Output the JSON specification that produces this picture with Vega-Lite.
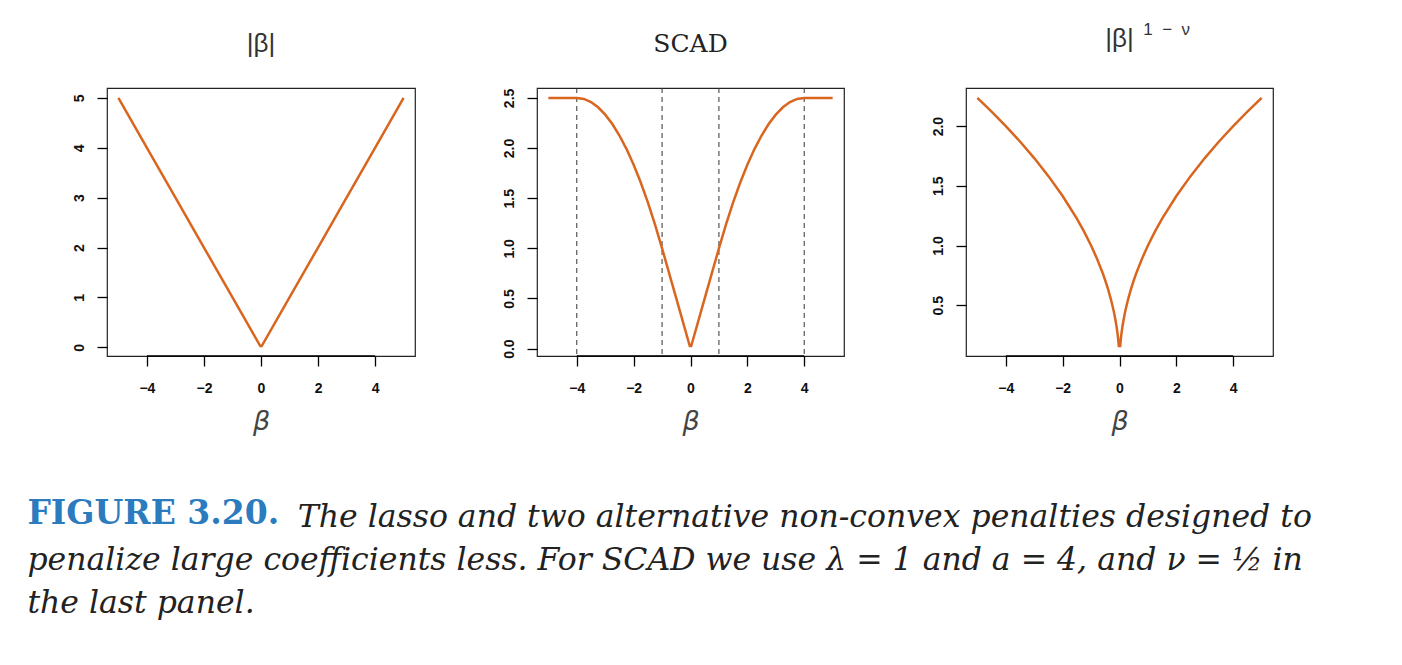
{
  "$schema": "https://vega.github.io/schema/vega-lite/v6.json",
  "background": "white",
  "padding": {"left": 27, "top": 20, "right": 0, "bottom": 0},
  "bounds": "flush",
  "spacing": 122,
  "config": {
    "view": {"stroke": "#222", "strokeWidth": 1.2},
    "axis": {
      "grid": false, "domain": false, "tickColor": "#000", "tickSize": 10, "tickWidth": 1.3,
      "labelFont": "Liberation Sans", "labelFontSize": 14, "labelFontWeight": "bold", "labelColor": "#111",
      "titleFont": "DejaVu Sans", "titleFontStyle": "italic", "titleFontWeight": "normal", "titleFontSize": 27, "titleColor": "#444"
    },
    "axisX": {"labelPadding": 15, "titlePadding": 13},
    "axisY": {"labelAngle": 270, "labelAlign": "center", "labelBaseline": "bottom", "labelPadding": 11, "title": null},
    "title": {"font": "Liberation Sans", "fontSize": 26, "fontWeight": "normal", "color": "#333", "anchor": "middle", "baseline": "alphabetic", "offset": 31}
  },
  "title": {
    "text": "FIGURE 3.20.",
    "subtitle": [
      "\u200b\u00a0\u00a0\u00a0\u00a0\u00a0\u00a0\u00a0\u00a0\u00a0\u00a0\u00a0\u00a0\u00a0\u00a0\u00a0\u00a0\u00a0\u00a0\u00a0\u00a0\u00a0\u00a0\u00a0\u00a0\u00a0\u00a0\u00a0The lasso and two alternative non-convex penalties designed to",
      "penalize large coefficients less. For SCAD we use λ = 1 and a = 4, and ν = ½ in",
      "the last panel."
    ],
    "orient": "bottom", "anchor": "start", "frame": "bounds",
    "font": "DejaVu Serif", "fontSize": 33, "fontWeight": "bold", "color": "#2b7bbf",
    "subtitleFont": "DejaVu Serif", "subtitleFontSize": 31.5, "subtitleFontStyle": "italic", "subtitleColor": "#222",
    "subtitleLineHeight": 43, "subtitlePadding": -29, "offset": 63, "dx": -44
  },
  "hconcat": [
    {
      "width": 308, "height": 268,
      "title": {"text": "|β|"},
      "layer": [
        {
          "data": {"values": [
            {"b": -5, "p": 5}, {"b": -4, "p": 4}, {"b": -3, "p": 3}, {"b": -2, "p": 2}, {"b": -1, "p": 1},
            {"b": -0.025, "p": 0.025}, {"b": 0.025, "p": 0.025},
            {"b": 1, "p": 1}, {"b": 2, "p": 2}, {"b": 3, "p": 3}, {"b": 4, "p": 4}, {"b": 5, "p": 5}
          ]},
          "mark": {"type": "line", "color": "#d9661f", "strokeWidth": 2.5},
          "encoding": {
            "x": {"field": "b", "type": "quantitative", "scale": {"domain": [-5.4, 5.4], "nice": false, "zero": false}, "axis": {"title": "β", "values": [-4, -2, 0, 2, 4], "format": "d"}},
            "y": {"field": "p", "type": "quantitative", "scale": {"domain": [-0.174, 5.199], "nice": false, "zero": false}, "axis": {"values": [0, 1, 2, 3, 4, 5], "format": "d"}}
          }
        },
        {
          "data": {"values": [{"from": -4, "to": 4}]},
          "mark": {"type": "rule", "color": "#000", "strokeWidth": 1.5},
          "encoding": {
            "x": {"field": "from", "type": "quantitative"},
            "x2": {"field": "to"},
            "y": {"value": "height"}
          }
        }
      ]
    },
    {
      "width": 307, "height": 268,
      "title": {"text": "SCAD", "font": "DejaVu Serif", "fontSize": 25, "color": "#222"},
      "layer": [
        {
          "data": {"values": [{"v": -4}, {"v": -1}, {"v": 1}, {"v": 4}]},
          "mark": {"type": "rule", "color": "#333", "strokeWidth": 1, "strokeDash": [5, 4]},
          "encoding": {"x": {"field": "v", "type": "quantitative", "scale": {"domain": [-5.4, 5.4], "nice": false, "zero": false}, "axis": {"title": "β", "values": [-4, -2, 0, 2, 4], "format": "d"}}}
        },
        {
          "data": {"values": [
            {"b": -5, "p": 2.5}, {"b": -4.5, "p": 2.5}, {"b": -4, "p": 2.5}, {"b": -3.75, "p": 2.4896}, {"b": -3.5, "p": 2.4583},
            {"b": -3.25, "p": 2.4063}, {"b": -3, "p": 2.3333}, {"b": -2.75, "p": 2.2396}, {"b": -2.5, "p": 2.125}, {"b": -2.25, "p": 1.9896},
            {"b": -2, "p": 1.8333}, {"b": -1.75, "p": 1.6563}, {"b": -1.5, "p": 1.4583}, {"b": -1.25, "p": 1.2396}, {"b": -1, "p": 1},
            {"b": -0.5, "p": 0.5}, {"b": -0.025, "p": 0.025}, {"b": 0.025, "p": 0.025}, {"b": 0.5, "p": 0.5},
            {"b": 1, "p": 1}, {"b": 1.25, "p": 1.2396}, {"b": 1.5, "p": 1.4583}, {"b": 1.75, "p": 1.6563}, {"b": 2, "p": 1.8333},
            {"b": 2.25, "p": 1.9896}, {"b": 2.5, "p": 2.125}, {"b": 2.75, "p": 2.2396}, {"b": 3, "p": 2.3333}, {"b": 3.25, "p": 2.4063},
            {"b": 3.5, "p": 2.4583}, {"b": 3.75, "p": 2.4896}, {"b": 4, "p": 2.5}, {"b": 4.5, "p": 2.5}, {"b": 5, "p": 2.5}
          ]},
          "mark": {"type": "line", "color": "#d9661f", "strokeWidth": 2.5},
          "encoding": {
            "x": {"field": "b", "type": "quantitative"},
            "y": {"field": "p", "type": "quantitative", "scale": {"domain": [-0.074, 2.599], "nice": false, "zero": false}, "axis": {"values": [0, 0.5, 1, 1.5, 2, 2.5], "format": ".1f"}}
          }
        },
        {
          "data": {"values": [{"from": -4, "to": 4}]},
          "mark": {"type": "rule", "color": "#000", "strokeWidth": 1.5},
          "encoding": {
            "x": {"field": "from", "type": "quantitative"},
            "x2": {"field": "to"},
            "y": {"value": "height"}
          }
        }
      ]
    },
    {
      "width": 307, "height": 268,
      "title": {"text": "|β|", "subtitle": "\u200b\u00a0\u00a0\u00a0\u00a0\u00a0\u00a0\u00a0\u00a0\u00a0\u00a0\u00a0\u00a0\u00a0\u00a0\u00a0\u00a0\u00a0\u00a0\u00a0\u00a01\u00a0\u00a0−\u00a0\u00a0ν", "subtitleFont": "Liberation Sans", "subtitleFontSize": 17, "subtitleColor": "#333", "subtitlePadding": -30, "offset": 31},
      "layer": [
        {
          "data": {"values": [
            {"b": -5, "p": 2.2361}, {"b": -4.5, "p": 2.1213}, {"b": -4, "p": 2.0}, {"b": -3.5, "p": 1.8708}, {"b": -3, "p": 1.7321},
            {"b": -2.5, "p": 1.5811}, {"b": -2, "p": 1.4142}, {"b": -1.5, "p": 1.2247}, {"b": -1.25, "p": 1.118}, {"b": -1, "p": 1.0},
            {"b": -0.8, "p": 0.8944}, {"b": -0.6, "p": 0.7746}, {"b": -0.5, "p": 0.7071}, {"b": -0.4, "p": 0.6325}, {"b": -0.3, "p": 0.5477},
            {"b": -0.2, "p": 0.4472}, {"b": -0.15, "p": 0.3873}, {"b": -0.1, "p": 0.3162}, {"b": -0.075, "p": 0.2739}, {"b": -0.05, "p": 0.2236},
            {"b": -0.025, "p": 0.1581}, {"b": 0.025, "p": 0.1581},
            {"b": 0.05, "p": 0.2236}, {"b": 0.075, "p": 0.2739}, {"b": 0.1, "p": 0.3162}, {"b": 0.15, "p": 0.3873}, {"b": 0.2, "p": 0.4472},
            {"b": 0.3, "p": 0.5477}, {"b": 0.4, "p": 0.6325}, {"b": 0.5, "p": 0.7071}, {"b": 0.6, "p": 0.7746}, {"b": 0.8, "p": 0.8944},
            {"b": 1, "p": 1.0}, {"b": 1.25, "p": 1.118}, {"b": 1.5, "p": 1.2247}, {"b": 2, "p": 1.4142}, {"b": 2.5, "p": 1.5811},
            {"b": 3, "p": 1.7321}, {"b": 3.5, "p": 1.8708}, {"b": 4, "p": 2.0}, {"b": 4.5, "p": 2.1213}, {"b": 5, "p": 2.2361}
          ]},
          "mark": {"type": "line", "color": "#d9661f", "strokeWidth": 2.5},
          "encoding": {
            "x": {"field": "b", "type": "quantitative", "scale": {"domain": [-5.4, 5.4], "nice": false, "zero": false}, "axis": {"title": "β", "values": [-4, -2, 0, 2, 4], "format": "d"}},
            "y": {"field": "p", "type": "quantitative", "scale": {"domain": [0.075, 2.319], "nice": false, "zero": false}, "axis": {"values": [0.5, 1, 1.5, 2], "format": ".1f"}}
          }
        },
        {
          "data": {"values": [{"from": -4, "to": 4}]},
          "mark": {"type": "rule", "color": "#000", "strokeWidth": 1.5},
          "encoding": {
            "x": {"field": "from", "type": "quantitative"},
            "x2": {"field": "to"},
            "y": {"value": "height"}
          }
        }
      ]
    }
  ]
}
